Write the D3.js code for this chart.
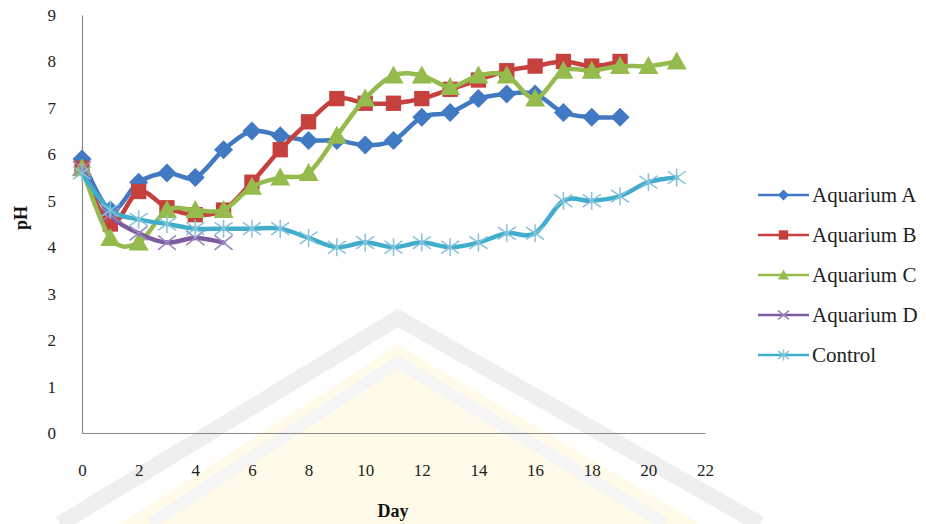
<!DOCTYPE html>
<html><head><meta charset="utf-8">
<script src="https://cdn.jsdelivr.net/npm/d3@7"></script>
<style>html,body{margin:0;padding:0;background:#fff;}svg{display:block;}</style>
</head><body>
<svg id="chart" width="926" height="524"></svg>
<script>
const days = d3.range(0, 22);
const seriesNames = ["Aquarium A", "Aquarium B", "Aquarium C", "Aquarium D", "Control"];
const aquariumA = [5.9, 4.8, 5.4, 5.6, 5.5, 6.1, 6.5, 6.4, 6.3, 6.3, 6.2, 6.3, 6.8, 6.9, 7.2, 7.3, 7.3, 6.9, 6.8, 6.8];
const aquariumB = [5.7, 4.5, 5.2, 4.85, 4.7, 4.8, 5.4, 6.1, 6.7, 7.2, 7.1, 7.1, 7.2, 7.4, 7.6, 7.8, 7.9, 8.0, 7.9, 8.0];
const aquariumC = [5.7, 4.2, 4.1, 4.8, 4.8, 4.8, 5.3, 5.5, 5.6, 6.4, 7.2, 7.7, 7.7, 7.45, 7.7, 7.7, 7.2, 7.8, 7.8, 7.9, 7.9, 8.0];
const aquariumD = [5.7, 4.7, 4.3, 4.1, 4.2, 4.1];
const control   = [5.6, 4.8, 4.6, 4.5, 4.4, 4.4, 4.4, 4.4, 4.2, 4.0, 4.1, 4.0, 4.1, 4.0, 4.1, 4.3, 4.3, 5.0, 5.0, 5.1, 5.4, 5.5];
const xTicks = [0, 2, 4, 6, 8, 10, 12, 14, 16, 18, 20, 22];
const yTicks = [0, 1, 2, 3, 4, 5, 6, 7, 8, 9];

const seriesValues = [aquariumA, aquariumB, aquariumC, aquariumD, control];
const colors = ["#4179C2", "#C6403E", "#95BB4E", "#7C5C9E", "#3FADCB"];
const markerColors = ["#4179C2", "#C6403E", "#95BB4E", "#9A86C0", "#86C3DA"];
const shapes = ["diamond", "square", "triangle", "x", "star"];

const svg = d3.select("#chart");
const serif = "Liberation Serif, DejaVu Serif, serif";

// faint watermark (decorative shapes only)
const wm = svg.append("g");
wm.append("path").attr("d", "M120,524 L398,345 L700,524 Z").attr("fill", "#fffbe8");
wm.append("path").attr("d", "M60,524 L398,318 L760,524").attr("fill", "none").attr("stroke", "#efefef").attr("stroke-width", 16);
wm.append("path").attr("d", "M150,524 L398,362 L665,524").attr("fill", "none").attr("stroke", "#f5f5f5").attr("stroke-width", 12);

const x = d3.scaleLinear().domain([0, 22]).range([82, 705]);
const y = d3.scaleLinear().domain([0, 9]).range([433, 15]);

// axes
const xAxis = svg.append("g").attr("transform", `translate(0,${y(0)})`)
  .call(d3.axisBottom(x).tickValues(xTicks).tickSize(0).tickPadding(30).tickFormat(d3.format("d")));
const yAxis = svg.append("g").attr("transform", `translate(${x(0)},0)`)
  .call(d3.axisLeft(y).tickValues(yTicks).tickSize(0).tickPadding(26).tickFormat(d3.format("d")));
[xAxis, yAxis].forEach(a => {
  a.attr("font-family", serif).attr("font-size", 17);
  a.select(".domain").attr("stroke", "#888").attr("stroke-width", 1.2);
  a.selectAll("text").attr("font-family", serif).attr("font-size", 17).attr("fill", "#222");
});
xAxis.selectAll("text").attr("dy", "0.35em").attr("y", 37);

svg.append("text").attr("x", 393).attr("y", 517).attr("text-anchor", "middle")
  .attr("font-family", serif).attr("font-weight", "bold").attr("font-size", 18).attr("fill", "#111").text("Day");
svg.append("text").attr("transform", "translate(27,218) rotate(-90)").attr("text-anchor", "middle")
  .attr("font-family", serif).attr("font-weight", "bold").attr("font-size", 18).attr("fill", "#111").text("pH");

function drawMarker(g, shape, color, mcolor, s) {
  if (shape === "diamond") {
    g.append("path").attr("d", `M0,${-s}L${s},0L0,${s}L${-s},0Z`).attr("fill", color);
  } else if (shape === "square") {
    g.append("rect").attr("x", -s * 0.85).attr("y", -s * 0.85).attr("width", s * 1.7).attr("height", s * 1.7).attr("fill", color);
  } else if (shape === "triangle") {
    g.append("path").attr("d", `M0,${-s}L${s},${s * 0.8}L${-s},${s * 0.8}Z`).attr("fill", color);
  } else if (shape === "x") {
    g.append("path").attr("d", `M${-s},${-s * 0.8}L${s},${s * 0.8}M${-s},${s * 0.8}L${s},${-s * 0.8}`)
      .attr("stroke", mcolor).attr("stroke-width", 1.6).attr("fill", "none");
  } else if (shape === "star") {
    g.append("path").attr("d", `M0,${-s}L0,${s}M${-s},${-s * 0.7}L${s},${s * 0.7}M${-s},${s * 0.7}L${s},${-s * 0.7}`)
      .attr("stroke", mcolor).attr("stroke-width", 1.5).attr("fill", "none");
  }
}

const line = d3.line().x((d, i) => x(days[i])).y(d => y(d)).curve(d3.curveCardinal.tension(0));
const sizes = [9.5, 9, 10, 9, 9];

seriesValues.forEach((vals, si) => {
  const g = svg.append("g");
  g.append("path").datum(vals).attr("d", line).attr("fill", "none")
    .attr("stroke", colors[si]).attr("stroke-width", 4.5).attr("stroke-linejoin", "round").attr("stroke-linecap", "round");
  vals.forEach((v, i) => {
    const mg = g.append("g").attr("transform", `translate(${x(days[i])},${y(v)})`);
    drawMarker(mg, shapes[si], colors[si], markerColors[si], sizes[si]);
  });
});

// legend
const legend = svg.append("g");
seriesNames.forEach((name, i) => {
  const ly = 195 + i * 40;
  const lg = legend.append("g").attr("transform", `translate(0,${ly})`);
  lg.append("line").attr("x1", 758).attr("x2", 809).attr("y1", 0).attr("y2", 0)
    .attr("stroke", colors[i]).attr("stroke-width", 2.5);
  const mg = lg.append("g").attr("transform", "translate(783.5,0)");
  drawMarker(mg, shapes[i], colors[i], markerColors[i], 5.5);
  lg.append("text").attr("x", 812).attr("y", 0).attr("dy", "0.35em")
    .attr("font-family", serif).attr("font-size", 21).attr("fill", "#222").text(name);
});
</script>
</body></html>
